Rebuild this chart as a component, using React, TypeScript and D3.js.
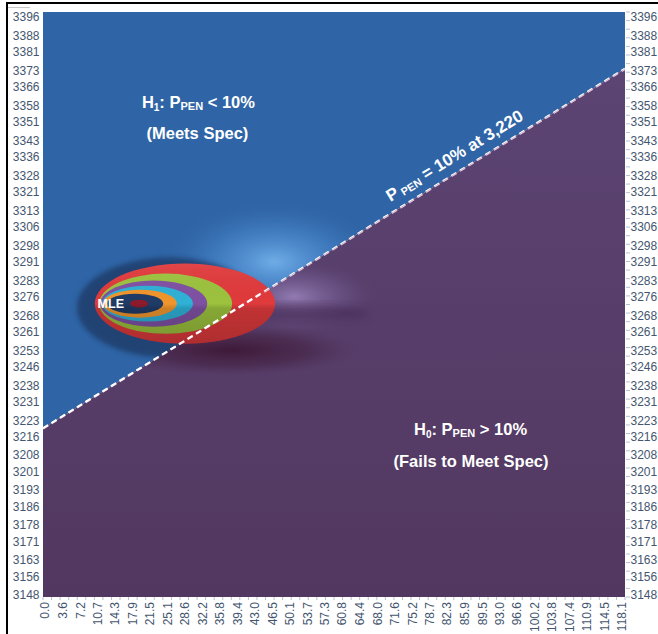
import React from "react";
import * as d3 from "d3";

// Category labels along the bottom (x) and both sides (y)
const xLabels = [
  "0.0", "3.6", "7.2", "10.7", "14.3", "17.9", "21.5", "25.1", "28.6", "32.2",
  "35.8", "39.4", "43.0", "46.5", "50.1", "53.7", "57.3", "60.8", "64.4", "68.0",
  "71.6", "75.2", "78.7", "82.3", "85.9", "89.5", "93.0", "96.6", "100.2", "103.8",
  "107.4", "110.9", "114.5", "118.1",
];
const yLabels = [
  3396, 3388, 3381, 3373, 3366, 3358, 3351, 3343, 3336, 3328, 3321, 3313, 3306,
  3298, 3291, 3283, 3276, 3268, 3261, 3253, 3246, 3238, 3231, 3223, 3216, 3208,
  3201, 3193, 3186, 3178, 3171, 3163, 3156, 3148,
];

// Decision boundary (P_PEN = 10%) at the two ends of the x range
const boundaryX = [0, 118.1];
const boundaryY = [3220, 3373];

// Maximum likelihood estimate
const mleX = 19.2;
const mleY = 3273;

// Likelihood contour bands, outermost first (data units)
const contourXMin = [10.2, 11.1, 11.3, 11.7, 11.9, 12.7, 17.4];
const contourXMax = [47.1, 38.3, 33.2, 30.3, 27.0, 24.2, 21.1];
const contourYHalf = [17.2, 12.9, 9.9, 7.7, 6.0, 4.3, 1.7];
const contourColors = ["#e03a3c", "#9cc23e", "#7f51a3", "#2fb1d6", "#f0952c", "#1f3b66", "#8e1b2c"];

const W = 658;
const H = 634;
const plot = { left: 43, right: 625, top: 12, bottom: 597 };

const x = d3.scaleLinear().domain([0, 118.1]).range([45, 622]);
const y = d3.scaleLinear().domain([3148, 3396]).range([595, 17]);

const labelColor = "#44566f";
const axisFont = "'Liberation Sans', Arial, sans-serif";

export default function App() {
  // boundary line in pixels, extended to the plot edges
  const slope = (boundaryY[1] - boundaryY[0]) / (boundaryX[1] - boundaryX[0]);
  const bLeftX = x.invert(plot.left);
  const bRightX = x.invert(plot.right);
  const p1 = [plot.left, y(boundaryY[0] + slope * (bLeftX - boundaryX[0]))];
  const p2 = [plot.right, y(boundaryY[0] + slope * (bRightX - boundaryX[0]))];

  const bluePoly = [
    [plot.left, plot.top], [plot.right, plot.top], p2, p1,
  ].map((p) => p.join(",")).join(" ");
  const purplePoly = [
    p1, p2, [plot.right, plot.bottom], [plot.left, plot.bottom],
  ].map((p) => p.join(",")).join(" ");

  const angle = (Math.atan2(p2[1] - p1[1], p2[0] - p1[0]) * 180) / Math.PI;

  const contours = contourColors.map((c, i) => {
    const cx = x((contourXMin[i] + contourXMax[i]) / 2);
    const rx = (x(contourXMax[i]) - x(contourXMin[i])) / 2;
    const ry = y(mleY - contourYHalf[i]) - y(mleY);
    return { cx, cy: y(mleY), rx, ry, color: c };
  });
  const outer = contours[0];

  // label of the boundary, placed along the line and lifted off it
  const lblAt = 85.5;
  const lblX = x(lblAt);
  const lblY = y(boundaryY[0] + slope * lblAt);

  const minorTicks = d3.range(0, 34 * 2 + 1);

  return (
    <svg
      width={W}
      height={H}
      style={{ position: "absolute", left: 0, top: 0, display: "block", background: "#fff" }}
    >
      <defs>
        <clipPath id="blueClip"><polygon points={bluePoly} /></clipPath>
        <clipPath id="purpleClip"><polygon points={purplePoly} /></clipPath>
        <linearGradient id="purpleFill" x1="0" y1="0" x2="0" y2="1">
          <stop offset="0%" stopColor="#5c4473" />
          <stop offset="100%" stopColor="#523860" />
        </linearGradient>
        <radialGradient id="blueGlow">
          <stop offset="0%" stopColor="#7ab9f2" stopOpacity={0.85} />
          <stop offset="55%" stopColor="#4f8fd6" stopOpacity={0.45} />
          <stop offset="100%" stopColor="#2f65a6" stopOpacity={0} />
        </radialGradient>
        <radialGradient id="purpleGlow">
          <stop offset="0%" stopColor="#a58fc8" stopOpacity={0.75} />
          <stop offset="60%" stopColor="#7c66a0" stopOpacity={0.35} />
          <stop offset="100%" stopColor="#5a4270" stopOpacity={0} />
        </radialGradient>
        <radialGradient id="maroonShade">
          <stop offset="0%" stopColor="#3a1330" stopOpacity={0.85} />
          <stop offset="60%" stopColor="#3f1a38" stopOpacity={0.45} />
          <stop offset="100%" stopColor="#4a2a55" stopOpacity={0} />
        </radialGradient>
        <linearGradient id="contourShade" x1="0" y1="0" x2="0" y2="1">
          <stop offset="0%" stopColor="#ffffff" stopOpacity={0.06} />
          <stop offset="50%" stopColor="#000000" stopOpacity={0} />
          <stop offset="56%" stopColor="#000000" stopOpacity={0.14} />
          <stop offset="100%" stopColor="#000000" stopOpacity={0.22} />
        </linearGradient>
        <filter id="soft" x="-30%" y="-30%" width="160%" height="160%">
          <feGaussianBlur stdDeviation="4" />
        </filter>
        <filter id="softer" x="-30%" y="-30%" width="160%" height="160%">
          <feGaussianBlur stdDeviation="2.5" />
        </filter>
      </defs>

      {/* outer frame */}
      <rect x={7} y={3} width={700} height={700} fill="none" stroke="#000" strokeWidth={2} />
      <line x1={8} x2={30} y1={7.5} y2={7.5} stroke="#c8c8c8" strokeWidth={1} />

      {/* regions either side of the boundary */}
      <polygon points={bluePoly} fill="#2f65a6" />
      <polygon points={purplePoly} fill="url(#purpleFill)" />

      {/* surface shading around the likelihood peak */}
      <g clipPath="url(#blueClip)">
        <ellipse cx={x(47)} cy={y(3291)} rx={115} ry={62} fill="url(#blueGlow)" />
        <ellipse
          cx={outer.cx - 16}
          cy={outer.cy + 4}
          rx={outer.rx + 2}
          ry={outer.ry + 10}
          fill="#1c3863"
          opacity={0.75}
          filter="url(#softer)"
        />
      </g>
      <g clipPath="url(#purpleClip)">
        <ellipse cx={x(51)} cy={y(3276)} rx={85} ry={38} fill="url(#purpleGlow)" />
        <ellipse cx={x(38)} cy={y(3253)} rx={130} ry={26} fill="url(#maroonShade)" />
        <ellipse cx={x(52)} cy={y(3269)} rx={70} ry={8} fill="#3e2248" opacity={0.5} filter="url(#soft)" />
      </g>

      {/* likelihood contours */}
      <g>
        {contours.map((c, i) => (
          <ellipse key={i} cx={c.cx} cy={c.cy} rx={c.rx} ry={c.ry} fill={c.color} />
        ))}
        <ellipse cx={outer.cx} cy={outer.cy} rx={outer.rx} ry={outer.ry} fill="url(#contourShade)" />
      </g>

      {/* boundary line */}
      <g clipPath="url(#blueClip)">
        <line x1={p1[0]} y1={p1[1]} x2={p2[0]} y2={p2[1]} stroke="#ffffff" strokeWidth={2.4} strokeDasharray="6 4" />
      </g>
      <g clipPath="url(#purpleClip)">
        <line x1={p1[0]} y1={p1[1]} x2={p2[0]} y2={p2[1]} stroke="#e9c4dc" strokeWidth={2.4} strokeDasharray="6 4" />
      </g>
      <line
        x1={p1[0]} y1={p1[1]} x2={x(44)} y2={y(boundaryY[0] + slope * 44)}
        stroke="#ffffff" strokeWidth={1.6} strokeDasharray="6 4"
      />

      {/* MLE marker label */}
      <text
        x={x(mleX) - 28}
        y={y(mleY) + 4.5}
        textAnchor="middle"
        fill="#fff"
        fontFamily={axisFont}
        fontWeight="bold"
        fontSize={12.5}
      >
        MLE
      </text>

      {/* hypothesis annotations */}
      <g fill="#fff" fontFamily={axisFont} fontWeight="bold" fontSize={16.5} textAnchor="middle">
        <text x={x(31.4)} y={y(3357)}>
          H<tspan fontSize={10} dy={3}>1</tspan>
          <tspan dy={-3}>: P</tspan>
          <tspan fontSize={11} dy={2}>PEN</tspan>
          <tspan dy={-2}> &lt; 10%</tspan>
        </text>
        <text x={x(31.2)} y={y(3343.5)}>(Meets Spec)</text>
        <text x={x(87.1)} y={y(3216.5)}>
          H<tspan fontSize={10} dy={3}>0</tspan>
          <tspan dy={-3}>: P</tspan>
          <tspan fontSize={11} dy={2}>PEN</tspan>
          <tspan dy={-2}> &gt; 10%</tspan>
        </text>
        <text x={x(87.2)} y={y(3203)}>(Fails to Meet Spec)</text>
      </g>
      <text
        transform={`translate(${lblX},${lblY}) rotate(${angle}) translate(0,-10)`}
        fill="#fff"
        fontFamily={axisFont}
        fontWeight="bold"
        fontSize={17}
        textAnchor="middle"
      >
        P<tspan fontSize={11} dy={2}> PEN</tspan>
        <tspan dy={-2}> = 10% at 3,220</tspan>
      </text>

      {/* tick marks */}
      <g stroke="#b4c0d2" strokeWidth={1}>
        {minorTicks.map((i) => {
          const px = plot.left + (i * (plot.right - plot.left)) / (minorTicks.length - 1);
          return <line key={"bx" + i} x1={px} x2={px} y1={plot.bottom} y2={plot.bottom + 3} />;
        })}
        {minorTicks.map((i) => {
          const py = plot.top + (i * (plot.bottom - plot.top)) / (minorTicks.length - 1);
          return <line key={"ry" + i} x1={plot.right + 1} x2={plot.right + 5} y1={py} y2={py} />;
        })}
      </g>

      {/* y axis labels, both sides */}
      <g fontFamily={axisFont} fontSize={12} fill={labelColor}>
        {yLabels.map((v) => (
          <text key={"l" + v} x={39.5} y={y(v)} dy="0.36em" textAnchor="end">{v}</text>
        ))}
        {yLabels.map((v) => (
          <text key={"r" + v} x={630.5} y={y(v)} dy="0.36em" textAnchor="start">{v}</text>
        ))}
      </g>

      {/* x axis labels, rotated */}
      <g fontFamily={axisFont} fontSize={12} fill={labelColor}>
        {xLabels.map((s) => (
          <text
            key={s}
            transform={`translate(${x(parseFloat(s))},${plot.bottom + 5}) rotate(-90)`}
            dy="0.36em"
            textAnchor="end"
          >
            {s}
          </text>
        ))}
      </g>
    </svg>
  );
}
